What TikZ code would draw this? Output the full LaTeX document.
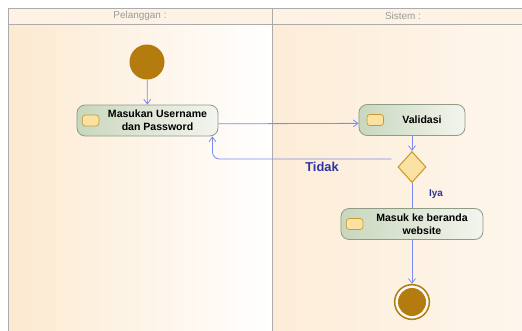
\documentclass[tikz,border=0pt]{standalone}
\usepackage{fontspec}
\setmainfont{Liberation Sans}
\usepackage{tikz}
\usetikzlibrary{shapes.geometric,arrows.meta}
\definecolor{LaneEdge}{HTML}{ABABAB}
\definecolor{LanePeach}{HTML}{FCE9D0}
\definecolor{LaneLight}{HTML}{FEF6EC}
\definecolor{HeadGray}{HTML}{9A9A9A}
\definecolor{FlowBlue}{HTML}{7C8DF0}
\definecolor{GuardBlue}{HTML}{2F33A3}
\definecolor{NodeGold}{HTML}{B47C0E}
\definecolor{DiaFill}{HTML}{FBE2A2}
\definecolor{DiaEdge}{HTML}{C99A2C}
\definecolor{ActGreen}{HTML}{C9D7BE}
\definecolor{ActPale}{HTML}{F3F5EE}
\definecolor{ActEdge}{HTML}{8E9C86}
\tikzset{
  lanehead/.style={
    font=\fontsize{8.5}{10}\selectfont,text=HeadGray,
    inner sep=1pt
  },
  action/.style={
    draw=ActEdge,left color=ActGreen,right color=ActPale,
    rounded corners=7pt,minimum height=0.93cm,line width=0.7pt,
    inner sep=0pt
  },
  acttext/.style={
    font=\fontsize{9}{11}\selectfont\bfseries,align=center,inner sep=1pt
  },
  acticon/.style={
    draw=DiaEdge,fill=DiaFill,rounded corners=2.5pt,
    minimum width=0.5cm,minimum height=0.33cm,inner sep=0pt,line width=0.6pt
  },
  decision/.style={
    diamond,draw=DiaEdge,fill=DiaFill,line width=0.9pt,
    minimum width=0.84cm,minimum height=0.93cm,inner sep=0pt
  },
  initial/.style={circle,fill=NodeGold,minimum size=1.05cm,inner sep=0pt},
  final/.style={
    circle,draw=NodeGold,line width=1.3pt,fill=white,
    minimum size=1.04cm,inner sep=0pt,
    path picture={\fill[NodeGold] (path picture bounding box.center) circle (0.42cm);}
  },
  flow/.style={draw=FlowBlue,line width=0.7pt,-{Straight Barb[length=4pt,width=6pt]}},
  guard/.style={font=\fontsize{11}{13}\selectfont\bfseries,text=GuardBlue,inner sep=1pt},
}

\begin{document}
\begin{tikzpicture}[x=0.03cm,y=-0.03cm]
  \useasboundingbox (0,0) rectangle (522,331);
  % Swimlanes
  \shade[left color=LanePeach,right color=white] (8,24) rectangle (272,331);
  \shade[left color=LanePeach!85,right color=LaneLight] (272,24) rectangle (522,331);
  \fill[LanePeach!60] (8,8) rectangle (522,24);
  \draw[LaneEdge,line width=0.8pt] (8,331) -- (8,8) -- (522,8);
  \draw[LaneEdge,line width=0.8pt] (8,24) -- (522,24);
  \draw[LaneEdge,line width=0.8pt] (272,8) -- (272,331);
  \node[lanehead] (pelanggan) at (140,16) {Pelanggan :};
  \node[lanehead] (sistem) at (403,16) {Sistem :};
  % Nodes
  \node[initial] (start) at (147,62) {};
  \node[action,minimum width=4.23cm] (masukan) at (147.5,120.5) {};
  \node[acticon] (masukan-ic) at ([xshift=0.42cm]masukan.west) {};
  \node[acttext] (masukan-txt) at ([xshift=0.3cm]masukan.center) {Masukan Username\\dan Password};
  \node[action,minimum width=3.18cm] (validasi) at (412,120) {};
  \node[acticon] (validasi-ic) at ([xshift=0.5cm]validasi.west) {};
  \node[acttext] (validasi-txt) at ([xshift=0.3cm]validasi.center) {Validasi};
  \node[decision] (cek) at (412,167) {};
  \node[action,minimum width=4.26cm] (masuk) at (412,224) {};
  \node[acticon] (masuk-ic) at ([xshift=0.42cm]masuk.west) {};
  \node[acttext] (masuk-txt) at ([xshift=0.3cm]masuk.center) {Masuk ke beranda\\website};
  \node[final] (end) at (412,302) {};
  % Flows
  \draw[flow] (start) -- (masukan);
  \draw[flow] ([yshift=-0.1cm]masukan.east) -- ([yshift=-0.1cm]validasi.west);
  \draw[flow] (validasi) -- (cek);
  \draw[flow,-] (cek) -- (masuk);
  \draw[flow] (masuk) -- (end);
  \draw[flow,rounded corners=6pt,shorten <=0.4cm] (cek.north west) -| ([xshift=-0.18cm]masukan.south east);
  \node[guard] (tidak) at (322,167) {Tidak};
  \node[guard,font=\fontsize{8.5}{10}\selectfont\bfseries] (iya) at (436,194) {Iya};
\end{tikzpicture}
\end{document}
